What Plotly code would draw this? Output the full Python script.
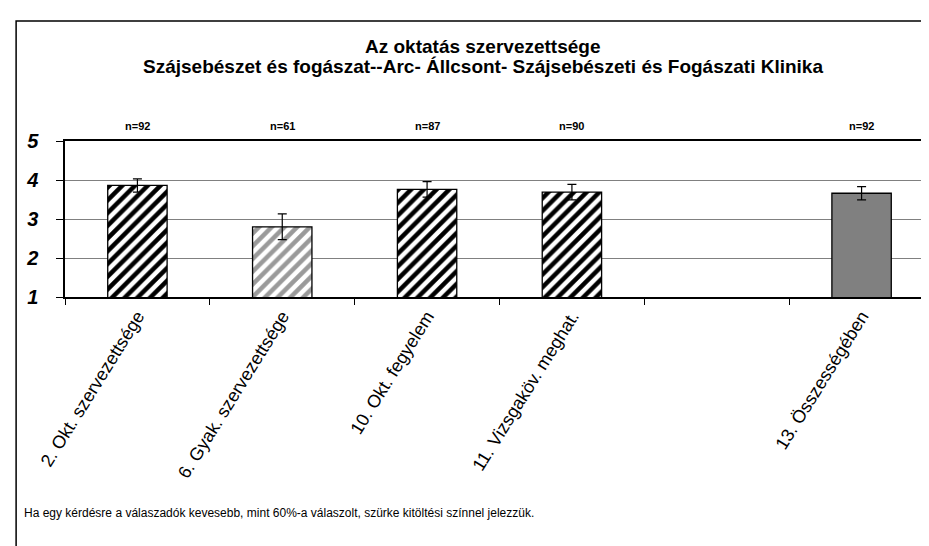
import plotly.graph_objects as go

categories = ["2. Okt. szervezettsége", "6. Gyak. szervezettsége", "10. Okt. fegyelem",
              "11. Vizsgaköv. meghat.", " ", "13. Összességében"]
values = [3.86, 2.80, 3.76, 3.69, None, 3.66]
errors = [0.17, 0.33, 0.20, 0.20, None, 0.17]
n_labels = ["n=92", "n=61", "n=87", "n=90", "", "n=92"]
groups = ["normal", "low", "normal", "normal", None, "total"]
title_lines = ["Az oktatás szervezettsége",
               "Szájsebészet és fogászat--Arc- Állcsont- Szájsebészeti és Fogászati Klinika"]
footnote = "Ha egy kérdésre a válaszadók kevesebb, mint 60%-a válaszolt, szürke kitöltési színnel jelezzük."

W, H = 929, 546
L, R, T, B = 57, 1, 133, 257
pw, ph = W - L - R, H - T - B

def px(x):
    return (x - L) / pw

def py(y):
    return (H - B - y) / ph

FONT = "Liberation Sans"
styles = {
    "normal": dict(color="white", pattern=dict(shape="/", fgcolor="black", fgopacity=1, size=9,
                                               solidity=0.5, fillmode="overlay")),
    "low": dict(color="white", pattern=dict(shape="/", fgcolor="#9a9a9a", fgopacity=1, size=9,
                                            solidity=0.5, fillmode="overlay")),
    "total": dict(color="#808080"),
}

fig = go.Figure()
for g, st in styles.items():
    yv = [v if gg == g else None for v, gg in zip(values, groups)]
    ev = [e if gg == g else None for e, gg in zip(errors, groups)]
    fig.add_trace(go.Bar(
        x=categories, y=yv, width=0.41,
        marker=dict(line=dict(color="black", width=1.3), **st),
        error_y=dict(type="data", array=ev, color="black", thickness=1.2, width=4.5),
    ))

annotations = []
for c, t in zip(categories, n_labels):
    if t:
        annotations.append(dict(x=c, y=py(118), xref="x", yref="paper", text="<b>" + t + "</b>",
                                yanchor="middle", showarrow=False,
                                font=dict(size=11, family=FONT, color="black")))
annotations.append(dict(x=px(476), y=py(39), xref="paper", yref="paper", text="<b>" + title_lines[0] + "</b>",
                        yanchor="middle", showarrow=False, font=dict(size=19, family=FONT, color="black")))
annotations.append(dict(x=px(476), y=py(59), xref="paper", yref="paper", text="<b>" + title_lines[1] + "</b>",
                        yanchor="middle", showarrow=False, font=dict(size=19, family=FONT, color="black")))
annotations.append(dict(x=px(14), y=py(505), xref="paper", yref="paper", text=footnote, xanchor="left",
                        yanchor="middle", showarrow=False, font=dict(size=12, family=FONT, color="black")))

fig.update_layout(
    width=W, height=H, margin=dict(l=L, r=R, t=T, b=B),
    paper_bgcolor="white", plot_bgcolor="white", showlegend=False, barmode="overlay",
    font=dict(family=FONT, color="black"),
    annotations=annotations,
    shapes=[dict(type="rect", xref="paper", yref="paper", x0=px(8), x1=px(940), y0=py(560), y1=py(13),
                 line=dict(color="black", width=1.5), layer="above")],
)
fig.update_xaxes(type="category", categoryorder="array", categoryarray=categories,
                 tickson="boundaries", ticks="outside", ticklen=6, tickcolor="black",
                 showline=True, linecolor="black", linewidth=1.5, mirror=True, showgrid=False,
                 tickangle=-58, tickfont=dict(size=18, family=FONT))
fig.update_yaxes(range=[1, 5], tickvals=[1, 2, 3, 4, 5], ticks="outside", ticklen=7, tickcolor="black",
                 showline=True, linecolor="black", linewidth=1.5, mirror=True,
                 showgrid=True, gridcolor="#808080", gridwidth=1, zeroline=False,
                 ticklabelstandoff=14,
                 tickfont=dict(size=20, family=FONT, weight="bold", style="italic"))

fig.write_html("out.html")
